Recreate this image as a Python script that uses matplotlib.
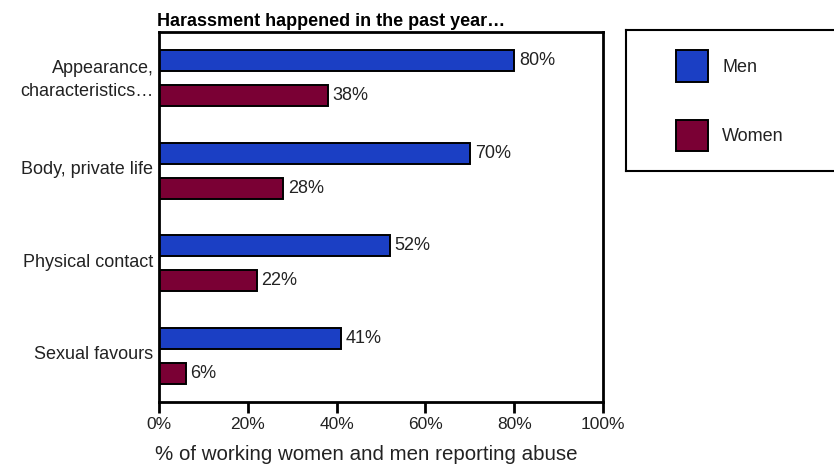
import matplotlib
matplotlib.use("Agg")
import matplotlib.pyplot as plt
import matplotlib.transforms as mtransforms
import numpy as np

plt.rcParams['font.family'] = ['Liberation Sans', 'DejaVu Sans']

categories = ['Appearance,\ncharacteristics\u2026', 'Body, private life',
              'Physical contact', 'Sexual favours']
men = [80, 70, 52, 41]
women = [38, 28, 22, 6]
xticks = [0, 20, 40, 60, 80, 100]

men_color = '#1b3fc4'
women_color = '#7a0034'
text_color = '#222222'

fig = plt.figure(figsize=(8.34, 4.66), dpi=100)
ax = fig.add_axes([159 / 834, 1 - 402 / 466, 444 / 834, 370 / 466])

y = np.arange(len(categories))
off = 0.19
h = 0.23
bars_m = ax.barh(y - off, men, height=h, color=men_color, edgecolor='black', linewidth=1.4, label='Men')
bars_w = ax.barh(y + off, women, height=h, color=women_color, edgecolor='black', linewidth=1.4, label='Women')

for bars, vals in ((bars_m, men), (bars_w, women)):
    for b, v in zip(bars, vals):
        ax.text(v + 1.1, b.get_y() + b.get_height() / 2, f'{v}%', va='center', ha='left',
                fontsize=13, color=text_color)

ax.set_xlim(0, 100)
ax.set_ylim(3.5, -0.5)
ax.set_xticks(xticks)
ax.set_xticklabels([f'{t}%' for t in xticks], fontsize=12.5, color=text_color)
ax.set_yticks(y)
ax.set_yticklabels(categories, fontsize=13, color=text_color, linespacing=1.45)
ax.tick_params(axis='y', length=0, pad=4)
ax.tick_params(axis='x', length=8, width=2, pad=3)
for s in ax.spines.values():
    s.set_linewidth(2)

# nudge category labels up a little
nudge = mtransforms.ScaledTranslation(0, 3 / 100, fig.dpi_scale_trans)
for lbl in ax.get_yticklabels():
    lbl.set_transform(lbl.get_transform() + nudge)

ax.set_xlabel('% of working women and men reporting abuse', fontsize=14.8,
              color=text_color, x=0.466, labelpad=9)
ax.set_title('Harassment happened in the past year\u2026', loc='left', fontsize=13,
             fontweight='bold', color='black', pad=4, x=-0.005)

# legend box on the right
leg_ax = fig.add_axes([626 / 834, 1 - 171 / 466, 0.3, 141 / 466])
leg_ax.set_xticks([])
leg_ax.set_yticks([])
for s in leg_ax.spines.values():
    s.set_linewidth(1.5)
leg_ax.legend(handles=[bars_m, bars_w], labels=['Men', 'Women'], loc='upper left',
              bbox_to_anchor=(0.163, 0.92), frameon=False,
              handlelength=1.78, handleheight=2.3, labelspacing=2.1, handletextpad=0.8,
              borderpad=0, labelcolor=text_color, prop={'size': 13})

fig.savefig('out.png', dpi=100)
